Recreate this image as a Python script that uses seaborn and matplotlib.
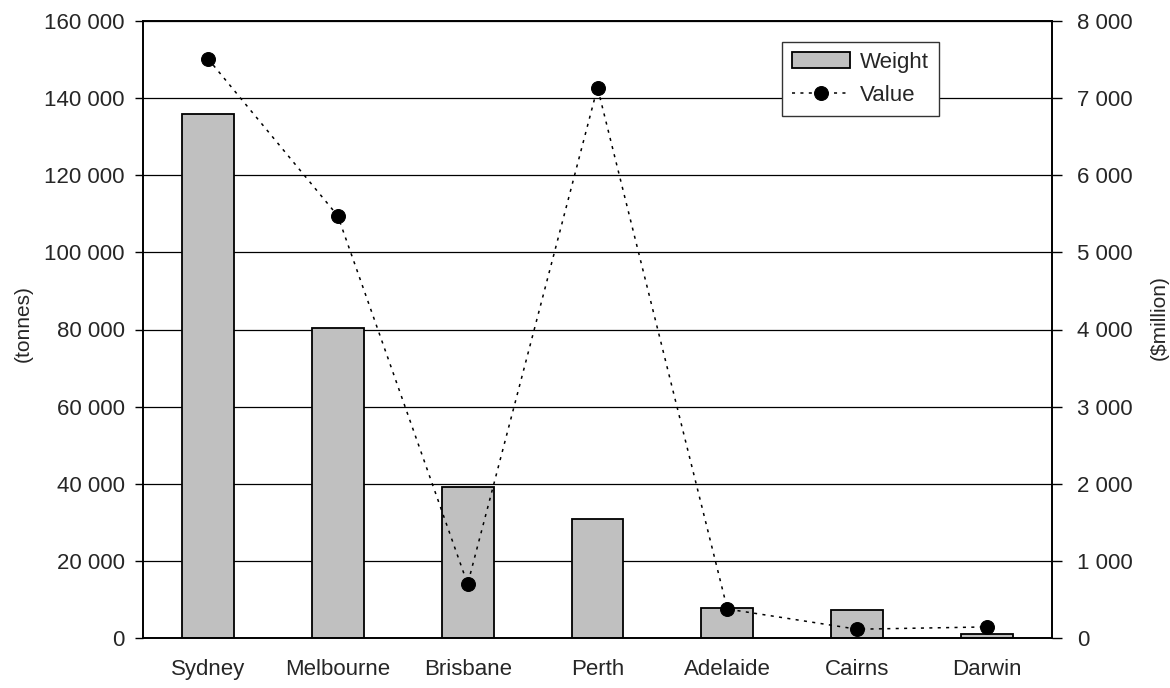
import numpy as np
import pandas as pd
import matplotlib
matplotlib.use("Agg")
import matplotlib.pyplot as plt
from matplotlib.ticker import FuncFormatter, FixedLocator
import seaborn as sns

cities = ["Sydney", "Melbourne", "Brisbane", "Perth", "Adelaide", "Cairns", "Darwin"]
weight_tonnes = [136000, 80300, 39100, 30750, 7800, 7200, 1050]
value_million = [7515, 5475, 695, 7140, 372, 110, 140]
left_ticks = [0, 20000, 40000, 60000, 80000, 100000, 120000, 140000, 160000]
right_ticks = [0, 1000, 2000, 3000, 4000, 5000, 6000, 7000, 8000]

sns.set_style("white")
plt.rcParams["font.family"] = ["Liberation Sans", "DejaVu Sans"]

df = pd.DataFrame({"city": cities, "weight": weight_tonnes, "value": value_million})
df["pos"] = np.arange(len(cities))

fig = plt.figure(figsize=(11.7, 6.88), dpi=100)
ax = fig.add_axes([143 / 1170, 1 - 637.7 / 688, (1052 - 143) / 1170, (637.7 - 21.3) / 688])

sns.barplot(data=df, x="city", y="weight", color="#C0C0C0", edgecolor="black",
            linewidth=1.3, width=0.4, saturation=1, ax=ax, zorder=3)
ax.set_ylim(0, 160000)
ax.set_xlim(-0.5, len(cities) - 0.5)
ax.yaxis.set_major_locator(FixedLocator(left_ticks))
fmt = FuncFormatter(lambda v, p: f"{int(v):,}".replace(",", " "))
ax.yaxis.set_major_formatter(fmt)
ax.grid(axis="y", color="black", linewidth=0.9, zorder=0)
ax.set_axisbelow(True)

# x ticks at category boundaries, labels at centers
ax.set_xticks(np.arange(len(cities) + 1) - 0.5)
ax.set_xticklabels([])
ax.set_xticks(np.arange(len(cities)), minor=True)
ax.set_xticklabels(cities, minor=True, fontsize=16)
ax.tick_params(axis="x", which="major", direction="out", length=6, width=1, color="black")
ax.tick_params(axis="x", which="minor", length=0, pad=15)
ax.tick_params(axis="y", direction="out", length=6, width=1, color="black", labelsize=16, pad=7,
               left=True)
ax.set_xlabel("")
ax.set_ylabel("(tonnes)", fontsize=15)
ax.yaxis.set_label_coords(-0.121, 0.51)
for s in ax.spines.values():
    s.set_color("black")
    s.set_linewidth(1.2)

ax2 = ax.twinx()
sns.lineplot(data=df, x="pos", y="value", ax=ax2, color="black", linewidth=1.1,
             linestyle=(0, (2, 3.5)), marker="o", markersize=10, markeredgecolor="black",
             markerfacecolor="black", label="Value", legend=False, zorder=5)
ax2.set_ylim(0, 8000)
ax2.set_xlim(-0.5, len(cities) - 0.5)
ax2.yaxis.set_major_locator(FixedLocator(right_ticks))
ax2.yaxis.set_major_formatter(fmt)
ax2.tick_params(axis="y", direction="out", length=7, width=1, color="black", labelsize=16, pad=11,
                right=True)
ax2.set_ylabel("($million)", fontsize=15)
ax2.yaxis.set_label_coords(1.107, 0.52)
ax2.set_xlabel("")
for s in ax2.spines.values():
    s.set_color("black")
    s.set_linewidth(1.2)

bar_handle = ax.patches[0]
line_handle = ax2.lines[0]
leg = ax2.legend([bar_handle, line_handle], ["Weight", "Value"],
                 loc="upper left", bbox_to_anchor=((782 - 143) / 909, (637.7 - 42) / 616.4),
                 frameon=True, fancybox=False, framealpha=1, edgecolor="#333333",
                 fontsize=16, handlelength=2.6, handletextpad=0.45, borderpad=0.45,
                 labelspacing=0.55, borderaxespad=0)
leg.get_frame().set_linewidth(1.0)
leg.set_zorder(10)

fig.savefig("out.png", dpi=100)
